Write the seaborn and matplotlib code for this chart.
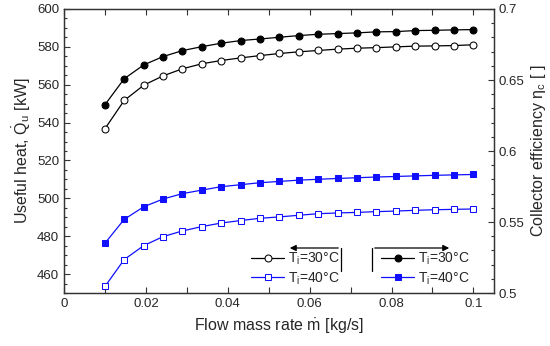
import seaborn as sns
import numpy as np
import matplotlib.pyplot as plt
from matplotlib.ticker import MultipleLocator

# Flow mass rate [kg/s]
flow = [0.01, 0.0147, 0.0195, 0.0242, 0.0289, 0.0337, 0.0384, 0.0432, 0.0479, 0.0526,
        0.0574, 0.0621, 0.0668, 0.0716, 0.0763, 0.0811, 0.0858, 0.0905, 0.0953, 0.1]

# Useful heat [kW] (left axis)
q_30 = [536.8, 551.7, 559.8, 564.7, 568.4, 571.1, 572.8, 574.2, 575.4, 576.5,
        577.4, 578.1, 578.8, 579.3, 579.6, 580.0, 580.4, 580.5, 580.7, 581.1]
q_40 = [453.5, 467.7, 475.1, 479.8, 482.8, 485.1, 487.0, 488.3, 489.5, 490.2,
        491.1, 491.9, 492.3, 492.6, 493.0, 493.3, 493.7, 494.0, 494.2, 494.4]

# Collector efficiency [-] (right axis)
eta_30 = [0.6326, 0.6509, 0.6607, 0.6665, 0.6707, 0.6735, 0.6759, 0.6778, 0.6789, 0.6801,
          0.6813, 0.6822, 0.6827, 0.6832, 0.6839, 0.6841, 0.6848, 0.6850, 0.6853, 0.6855]
eta_40 = [0.5351, 0.5519, 0.5608, 0.5662, 0.5700, 0.5725, 0.5749, 0.5763, 0.5777, 0.5786,
          0.5795, 0.5801, 0.5807, 0.5812, 0.5817, 0.5821, 0.5825, 0.5829, 0.5832, 0.5835]

labels = ['T$_\\mathrm{i}$=30°C', 'T$_\\mathrm{i}$=40°C']

sns.set_style("white")
plt.rcParams['font.family'] = ['Liberation Sans', 'DejaVu Sans']
plt.rcParams['mathtext.fontset'] = 'custom'
plt.rcParams['mathtext.rm'] = 'Liberation Sans'
plt.rcParams['mathtext.it'] = 'Liberation Sans:italic'

fig = plt.figure(figsize=(5.5, 3.46), dpi=100)
ax = fig.add_axes([0.1164, 0.153, 0.7816, 0.821])
ax2 = ax.twinx()

blue = '#1010ff'
sns.lineplot(x=flow, y=q_30, ax=ax, color='black', marker='o', markersize=5,
             markerfacecolor='white', markeredgecolor='black', lw=0.9, label=labels[0])
sns.lineplot(x=flow, y=q_40, ax=ax, color=blue, marker='s', markersize=4.5,
             markerfacecolor='white', markeredgecolor=blue, lw=0.9, label=labels[1])
sns.lineplot(x=flow, y=eta_30, ax=ax2, color='black', marker='o', markersize=5,
             markeredgecolor='black', lw=0.9, label=labels[0])
sns.lineplot(x=flow, y=eta_40, ax=ax2, color=blue, marker='s', markersize=4.5,
             markeredgecolor=blue, lw=0.9, label=labels[1])

ax.set_xlim(0, 0.105)
ax.set_ylim(450, 600)
ax2.set_ylim(0.5, 0.7)
ax.set_xticks([0, 0.02, 0.04, 0.06, 0.08, 0.1])
ax.set_xticklabels(['0', '0.02', '0.04', '0.06', '0.08', '0.1'])
ax.set_yticks([460, 480, 500, 520, 540, 560, 580, 600])
ax2.set_yticks([0.5, 0.55, 0.6, 0.65, 0.7])
ax2.set_yticklabels(['0.5', '0.55', '0.6', '0.65', '0.7'])
ax.xaxis.set_minor_locator(MultipleLocator(0.01))
ax.yaxis.set_minor_locator(MultipleLocator(5))
ax2.yaxis.set_minor_locator(MultipleLocator(0.01))

ax.tick_params(axis='both', which='both', direction='in', labelsize=9.5, top=True,
               left=True, bottom=True, right=False, width=0.8, color='#333333')
ax.tick_params(which='major', length=4)
ax.tick_params(which='minor', length=2.5)
ax.tick_params(axis='x', which='minor', length=4)
ax2.tick_params(axis='y', which='both', direction='in', labelsize=9.5, right=True,
                width=0.8, color='#333333')
ax2.tick_params(which='major', length=4)
ax2.tick_params(which='minor', length=2.5)

for a in (ax, ax2):
    for s in a.spines.values():
        s.set_color('#333333')
        s.set_linewidth(0.9)

ax.set_xlabel('Flow mass rate $\\dot{\\mathrm{m}}$ [kg/s]', fontsize=11.5, labelpad=5)
ax.set_ylabel('Useful heat, $\\dot{\\mathrm{Q}}_\\mathrm{u}$ [kW]', fontsize=11.5, labelpad=3)
ax2.set_ylabel('Collector efficiency $\\mathrm{\\eta}_\\mathrm{c}$ [ ]', fontsize=11.5, labelpad=3)

leg_kw = dict(loc='upper left', bbox_transform=fig.transFigure, frameon=False, fontsize=10,
              handlelength=2.4, handletextpad=0.25, labelspacing=0.2, borderpad=0,
              borderaxespad=0)
ax.legend(bbox_to_anchor=(251/550, 1-251/346), **leg_kw)
ax2.legend(bbox_to_anchor=(381/550, 1-251/346), **leg_kw)

# brackets with arrows pointing at each axis
ft = fig.transFigure
arr = dict(arrowstyle='-|>', color='black', lw=0.9, mutation_scale=9)
fig.add_artist(plt.Line2D([341/550, 341/550], [1-248/346, 1-271/346], transform=ft, color='black', lw=0.9))
ax.annotate('', xy=(287/550, 1-248/346), xytext=(341/550, 1-248/346), xycoords=ft, textcoords=ft, arrowprops=arr)
fig.add_artist(plt.Line2D([372/550, 372/550], [1-248/346, 1-271/346], transform=ft, color='black', lw=0.9))
ax.annotate('', xy=(452/550, 1-248/346), xytext=(372/550, 1-248/346), xycoords=ft, textcoords=ft, arrowprops=arr)

fig.savefig('out.png', dpi=100)
